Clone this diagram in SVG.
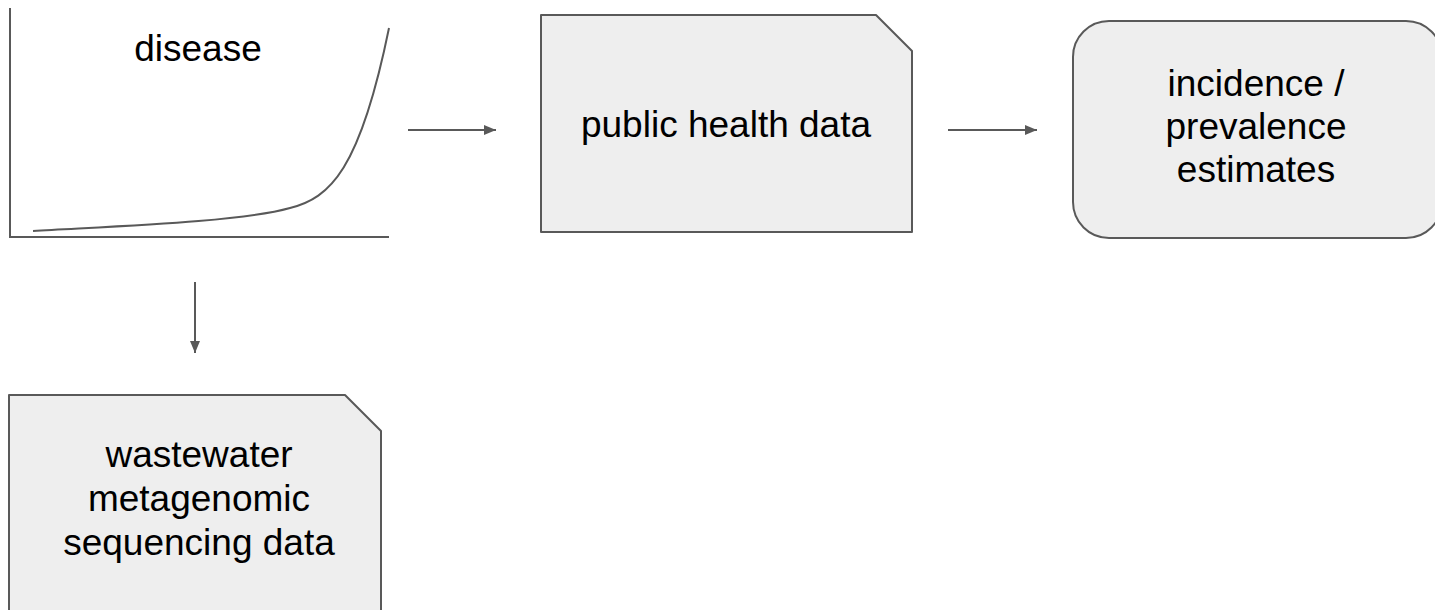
<svg xmlns="http://www.w3.org/2000/svg" width="1435" height="610" viewBox="0 0 1435 610">
  <style>
    .box { fill: #eeeeee; stroke: #595959; stroke-width: 2; stroke-linejoin: round; }
    .line { fill: none; stroke: #595959; stroke-width: 2; }
    .label { font-family: "Liberation Sans", Arial, sans-serif; font-size: 37px; fill: #000000; text-anchor: middle; }
  </style>
  <defs>
    <marker id="arrow" viewBox="0 0 12 10" refX="12" refY="5" markerWidth="12" markerHeight="10" markerUnits="userSpaceOnUse" orient="auto">
      <path d="M0,0 L12,5 L0,10 Z" fill="#595959"/>
    </marker>
  </defs>
  <rect width="1435" height="610" fill="#ffffff"/>

  <!-- disease curve plot -->
  <g id="disease">
    <path class="line" d="M10,8 V237 H389"/>
    <path class="line" d="M33,231 C120,226 240,222 290,208 C330,198 360,170 389,28"/>
    <text class="label" x="198" y="61">disease</text>
  </g>

  <!-- public health data -->
  <g id="public-health-data">
    <path class="box" d="M541,15 H876 L912,51 V232 H541 Z"/>
    <text class="label" x="726" y="137">public health data</text>
  </g>

  <!-- incidence / prevalence estimates -->
  <g id="estimates">
    <rect class="box" x="1073" y="21" width="369" height="217" rx="36" ry="36"/>
    <text class="label" x="1256" y="96">incidence /</text>
    <text class="label" x="1256" y="139">prevalence</text>
    <text class="label" x="1256" y="182">estimates</text>
  </g>

  <!-- wastewater metagenomic sequencing data -->
  <g id="wastewater">
    <path class="box" d="M9,395 H345 L381,431 V640 H9 Z"/>
    <text class="label" x="199" y="467">wastewater</text>
    <text class="label" x="199" y="511">metagenomic</text>
    <text class="label" x="199" y="555">sequencing data</text>
  </g>

  <!-- connectors -->
  <g id="connectors">
    <line class="line" x1="408" y1="130" x2="496" y2="130" marker-end="url(#arrow)"/>
    <line class="line" x1="948" y1="130" x2="1037" y2="130" marker-end="url(#arrow)"/>
    <line class="line" x1="195" y1="282" x2="195" y2="353" marker-end="url(#arrow)"/>
  </g>
</svg>
